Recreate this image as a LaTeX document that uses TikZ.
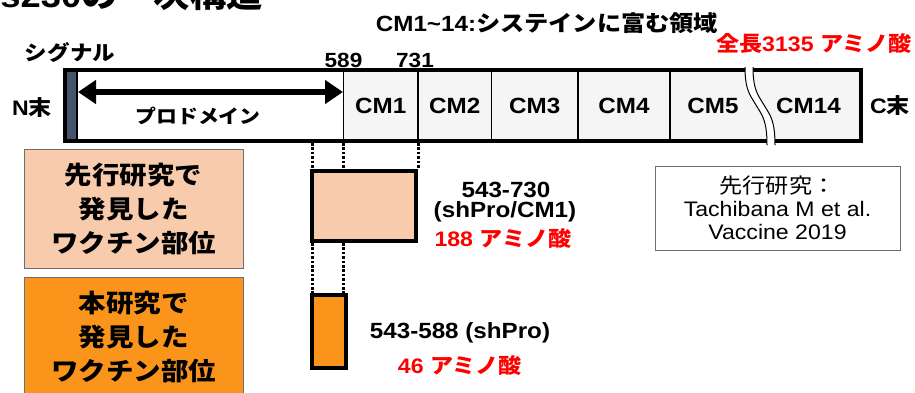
\documentclass[tikz,border=0pt]{standalone}
\usepackage{fontspec}
\usetikzlibrary{arrows.meta}
\setmainfont{Liberation Sans}[FakeStretch=1.1]
\newfontfamily\jp{Noto Sans CJK JP}[FakeStretch=1.1]
\newcommand\J[1]{{\jp #1}}
\newcommand\fsz[1]{\fontsize{#1}{#1}\selectfont}
\definecolor{sigc}{HTML}{44546A}
\definecolor{palec}{HTML}{F8CBAD}
\definecolor{orangec}{RGB}{250,148,27}
\definecolor{cmc}{RGB}{245,245,245}
\definecolor{redc}{HTML}{FF0000}
\definecolor{boxline}{RGB}{110,110,110}
\begin{document}
\begin{tikzpicture}[x=1pt,y=-1pt,
  seg/.style={fill=cmc, minimum height=71pt, inner sep=0pt, outer sep=0pt, anchor=west, font=\bfseries\fsz{22}},
  lbl/.style={inner sep=0pt, outer sep=0pt, font=\bfseries\fsz{22}},
  divider/.style={line width=1.2pt, black},
  dotl/.style={line width=3pt, dash pattern=on 2.6pt off 1.8pt, black},
  bigbox/.style={draw=boxline, line width=0.8pt, inner sep=0pt, outer sep=0pt, align=center, minimum width=219pt, font=\bfseries\jp\fontsize{25}{34}\selectfont},
  frag/.style={draw=black, line width=4pt, inner sep=0pt, outer sep=0pt},
  redtxt/.style={lbl, text=redc, font=\bfseries\fsz{21}}]
\useasboundingbox (0,0) rectangle (915,392);

% title (clipped at the top, as in the reference)
\node[anchor=base west, inner sep=0pt, font=\bfseries\fsz{33}] (title) at (-36,7) {Pfs230\J{の一次構造}};

% bar segments
\node[seg, fill=sigc, minimum width=12pt] (sig) at (65,105.5) {};
\node[seg, fill=white, minimum width=266.5pt] (pro) at (sig.east) {};
\node[seg, minimum width=74.5pt] (cm1) at (pro.east) {CM1};
\node[seg, minimum width=73.5pt] (cm2) at (cm1.east) {CM2};
\node[seg, minimum width=86.5pt] (cm3) at (cm2.east) {CM3};
\node[seg, minimum width=92pt] (cm4) at (cm3.east) {CM4};
\node[seg, minimum width=86pt] (cm5) at (cm4.east) {CM5};
\node[seg, minimum width=105pt] (cm14) at (cm5.east) {CM14};
\foreach \n in {sig,pro,cm1,cm2,cm3,cm4}
  \draw[divider] (\n.north east) -- (\n.south east);
\draw[line width=4pt] (sig.north west) rectangle (cm14.south east);

% break
\fill[white] (745,66) .. controls (745,90) and (750,95) .. (756,105)
  .. controls (762,115) and (767,120) .. (767,146) -- (775,146)
  .. controls (775,120) and (770,115) .. (764,105)
  .. controls (758,95) and (753,90) .. (753,66) -- cycle;
\draw[line width=1pt] (745,67) .. controls (745,90) and (750,95) .. (756,105)
  .. controls (762,115) and (767,120) .. (767,145);
\draw[line width=1pt] (753,67) .. controls (753,90) and (758,95) .. (764,105)
  .. controls (770,115) and (775,120) .. (775,145);

% prodomain arrow
\coordinate (aL) at (78,92);
\coordinate (aR) at (343,92);
\draw[line width=6pt, {Triangle[length=18pt,width=23pt]}-{Triangle[length=18pt,width=23pt]}] (aL) -- (aR);

% labels around the bar
\node[lbl, font=\bfseries\fsz{19}] (protxt) at (198,116) {\J{プロドメイン}};
\node[lbl, font=\bfseries\fsz{20.5}] (sigtxt) at (70,53) {\J{シグナル}};
\node[lbl, font=\bfseries\fsz{21}] (nterm) at (32,108) {N\J{末}};
\node[lbl, font=\bfseries\fsz{21}] (cterm) at (890,106) {C\J{末}};
\node[lbl, font=\bfseries\fsz{20.5}, anchor=base] (p589) at (343.5,67) {589};
\node[lbl, font=\bfseries\fsz{20.5}, anchor=base] (p731) at (415,67) {731};
\node[lbl] (cmhead) at (547,23) {CM1\textasciitilde14:\J{システインに富む領域}};
\node[redtxt] (full) at (814,43) {\J{全長}3135 \J{アミノ酸}};

% dotted guides
\draw[dotl] (312,143) -- (312,169);
\draw[dotl] (cm1.south west) ++(0,2) -- (343.5,169);
\draw[dotl] (cm1.south east) ++(0,2) -- (418,169);
\draw[dotl] (312,243) -- (312,293);
\draw[dotl] (343.5,243) -- (343.5,293);

% fragments
\node[frag, fill=palec, minimum width=104pt, minimum height=70pt] (prevfrag) at (364,206) {};
\node[frag, fill=orangec, minimum width=34pt, minimum height=73pt] (thisfrag) at (329,331.5) {};

% fragment labels
\node[lbl] (r1a) at (506,190) {543-730};
\node[lbl] (r1b) at (505,212) {(shPro/CM1)};
\node[redtxt] (r1c) at (503,238) {188 \J{アミノ酸}};
\node[lbl] (r2a) at (460,333) {543-588 (shPro)};
\node[redtxt] (r2b) at (460,365) {46 \J{アミノ酸}};

% left boxes
\node[bigbox, fill=palec, minimum height=119pt] (prev) at (133.5,208.5) {先行研究で\\発見した\\ワクチン部位};
\node[bigbox, fill=orangec, minimum height=120pt] (this) at (133.5,337) {本研究で\\発見した\\ワクチン部位};

% reference box
\node[draw=boxline, line width=0.8pt, inner sep=0pt, minimum width=245pt, minimum height=84pt, align=center, font=\fontsize{21}{23}\selectfont] (ref) at (777.5,208) {\J{先行研究：}\\Tachibana M et al.\\Vaccine 2019};
\end{tikzpicture}
\end{document}
